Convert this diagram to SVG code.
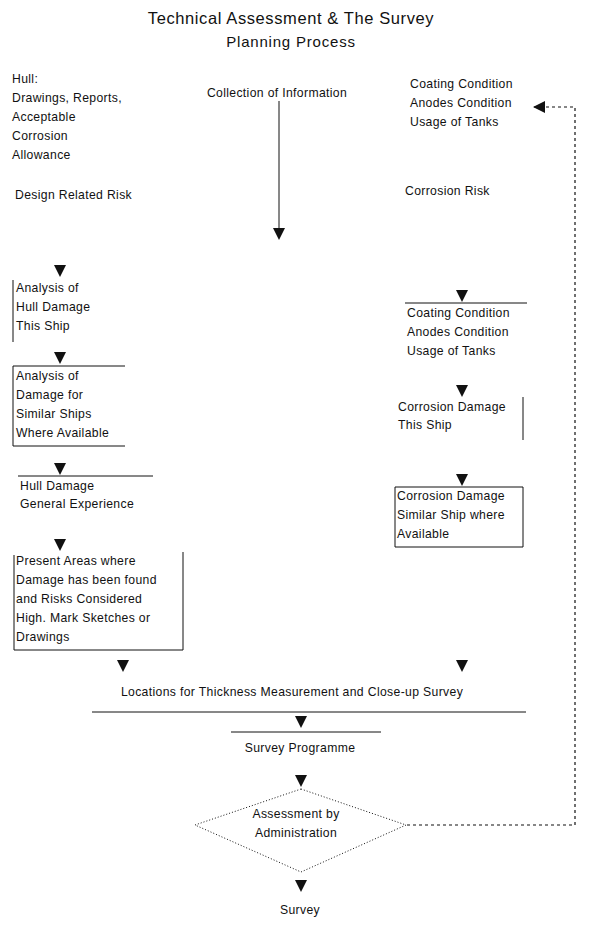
<svg xmlns="http://www.w3.org/2000/svg" xmlns:xlink="http://www.w3.org/1999/xlink" width="591" height="927" viewBox="0 0 591 927">
<style>
text{font-family:"Liberation Sans",Arial,sans-serif;font-size:12.2px;letter-spacing:0.35px;fill:#111}
.t{font-size:16.5px;letter-spacing:0.6px}
.s{font-size:15px;letter-spacing:0.8px}
.ln{stroke:#111;stroke-width:1;fill:none}
.dash{stroke:#111;stroke-width:1.2;fill:none;stroke-dasharray:3 3}
.dot{stroke:#111;stroke-width:1;fill:none;stroke-dasharray:1 2}
</style>
<defs>
<polygon id="ah" points="-6,0 6,0 0,12" fill="#111"/>
<marker id="m" markerWidth="12" markerHeight="12" refX="11" refY="6" orient="auto" markerUnits="userSpaceOnUse"><polygon points="0,0 12,6 0,12" fill="#111"/></marker>
</defs>
<rect width="591" height="927" fill="#fff"/>
<g id="title">
<text class="t" x="291" y="24" text-anchor="middle">Technical Assessment &amp; The Survey</text>
<text class="s" x="291" y="47" text-anchor="middle">Planning Process</text>
</g>
<g id="hull-info">
<text x="12" y="83">Hull:</text>
<text x="12" y="102">Drawings, Reports,</text>
<text x="12" y="121">Acceptable</text>
<text x="12" y="140">Corrosion</text>
<text x="12" y="159">Allowance</text>
</g>
<g id="collection"><text x="277" y="97" text-anchor="middle">Collection of Information</text></g>
<g id="coating-info">
<text x="410" y="88">Coating Condition</text>
<text x="410" y="107">Anodes Condition</text>
<text x="410" y="126">Usage of Tanks</text>
</g>
<g id="design-risk"><text x="15" y="199">Design Related Risk</text></g>
<g id="corrosion-risk"><text x="405" y="195">Corrosion Risk</text></g>
<g id="analysis-this">
<path class="ln" d="M13,280 V342"/>
<text x="16" y="292">Analysis of</text>
<text x="16" y="311">Hull Damage</text>
<text x="16" y="330">This Ship</text>
</g>
<g id="analysis-similar">
<path class="ln" d="M125,366 H13 V446 H125"/>
<text x="16" y="380">Analysis of</text>
<text x="16" y="399">Damage for</text>
<text x="16" y="418">Similar Ships</text>
<text x="16" y="437">Where Available</text>
</g>
<g id="hull-general">
<path class="ln" d="M18,476 H153"/>
<text x="20" y="490">Hull Damage</text>
<text x="20" y="508">General Experience</text>
</g>
<g id="present-areas">
<path class="ln" d="M14,555 V650 H183 V552"/>
<text x="16" y="565">Present Areas where</text>
<text x="16" y="584">Damage has been found</text>
<text x="16" y="603">and Risks Considered</text>
<text x="16" y="622">High. Mark Sketches or</text>
<text x="16" y="641">Drawings</text>
</g>
<g id="coating-box">
<path class="ln" d="M405,303 H527"/>
<text x="407" y="317">Coating Condition</text>
<text x="407" y="336">Anodes Condition</text>
<text x="407" y="355">Usage of Tanks</text>
</g>
<g id="corr-this">
<path class="ln" d="M523,397 V440"/>
<text x="398" y="411">Corrosion Damage</text>
<text x="398" y="429">This Ship</text>
</g>
<g id="corr-similar">
<path class="ln" d="M395,487 H523 V547 H395 Z"/>
<text x="397" y="500">Corrosion Damage</text>
<text x="397" y="519">Similar Ship where</text>
<text x="397" y="538">Available</text>
</g>
<g id="locations">
<text x="292" y="696" text-anchor="middle">Locations for Thickness Measurement and Close-up Survey</text>
<path class="ln" d="M92,712 H526"/>
</g>
<g id="programme">
<path class="ln" d="M231,732 H381"/>
<text x="300" y="752" text-anchor="middle">Survey Programme</text>
</g>
<g id="assessment">
<polygon class="dot" points="301,789 406,825 301,872 195,825"/>
<text x="296" y="818" text-anchor="middle">Assessment by</text>
<text x="296" y="837" text-anchor="middle">Administration</text>
</g>
<g id="survey"><text x="300" y="914" text-anchor="middle">Survey</text></g>
<g id="connectors">
<path class="ln" d="M279,101 V230"/>
<polygon points="273,228 285,228 279,240" fill="#111"/>
<use xlink:href="#ah" x="60" y="265"/>
<use xlink:href="#ah" x="60" y="352"/>
<use xlink:href="#ah" x="60" y="463"/>
<use xlink:href="#ah" x="60" y="539"/>
<use xlink:href="#ah" x="462" y="290"/>
<use xlink:href="#ah" x="462" y="385"/>
<use xlink:href="#ah" x="462" y="474"/>
<use xlink:href="#ah" x="123" y="660"/>
<use xlink:href="#ah" x="462" y="660"/>
<use xlink:href="#ah" x="301" y="716"/>
<use xlink:href="#ah" x="301" y="775"/>
<use xlink:href="#ah" x="301" y="880"/>
<path class="dash" d="M407,825 H575 V107 H534" marker-end="url(#m)"/>
</g>
</svg>
